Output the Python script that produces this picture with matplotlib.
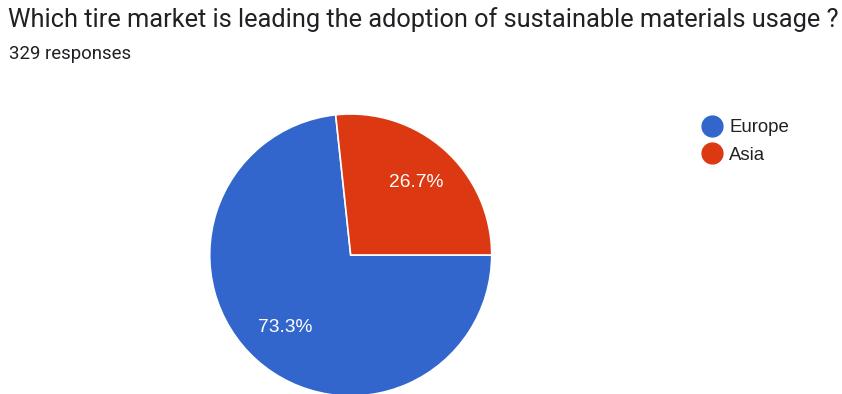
import matplotlib.pyplot as plt
from matplotlib.lines import Line2D

# Survey data
regions = ['Europe', 'Asia']
shares = [73.3, 26.7]
colors = ['#3366cc', '#dc3912']

title = 'Which tire market is leading the adoption of sustainable materials usage ?'
subtitle = '329 responses'

plt.rcParams['font.family'] = ['Roboto', 'DejaVu Sans']
label_font = ['Arial', 'Liberation Sans', 'DejaVu Sans']

fig = plt.figure(figsize=(8.42, 3.94), dpi=100)
fig.patch.set_facecolor('white')

# Title and response count
fig.text(8 / 842, 1 - 20 / 394, title, fontsize=18.3, color='#202124', va='center', ha='left')
fig.text(9 / 842, 1 - 54 / 394, subtitle, fontsize=13.4, color='#202124', va='center', ha='left')

# Pie axis placed so the circle matches the reference
r = 141
cx, cy = 350.7, 255
ax = fig.add_axes([(cx - r) / 842, (394 - cy - r) / 394, 2 * r / 842, 2 * r / 394])
start = 360 * shares[1] / 100
wedges, texts, autotexts = ax.pie(
    shares, colors=colors, startangle=start, counterclock=True,
    autopct='%1.1f%%', pctdistance=0.69,
    wedgeprops=dict(edgecolor='white', linewidth=1.2),
    textprops=dict(color='white', fontsize=13.8, family=label_font))
ax.set_xlim(-1, 1)
ax.set_ylim(-1, 1)
ax.set_aspect('equal')

# Legend with round markers
handles = [Line2D([0], [0], marker='o', linestyle='', markersize=15,
                  markerfacecolor=c, markeredgecolor=c) for c in colors]
leg = fig.legend(handles, regions, loc='upper left', bbox_to_anchor=(692 / 842, 1 - 112 / 394),
                 frameon=False, handletextpad=0.3, labelspacing=0.55,
                 handlelength=1.3, borderaxespad=0,
                 prop=dict(family=label_font, size=13.4))
for t in leg.get_texts():
    t.set_color('#222222')

fig.savefig('out.png', dpi=100)
